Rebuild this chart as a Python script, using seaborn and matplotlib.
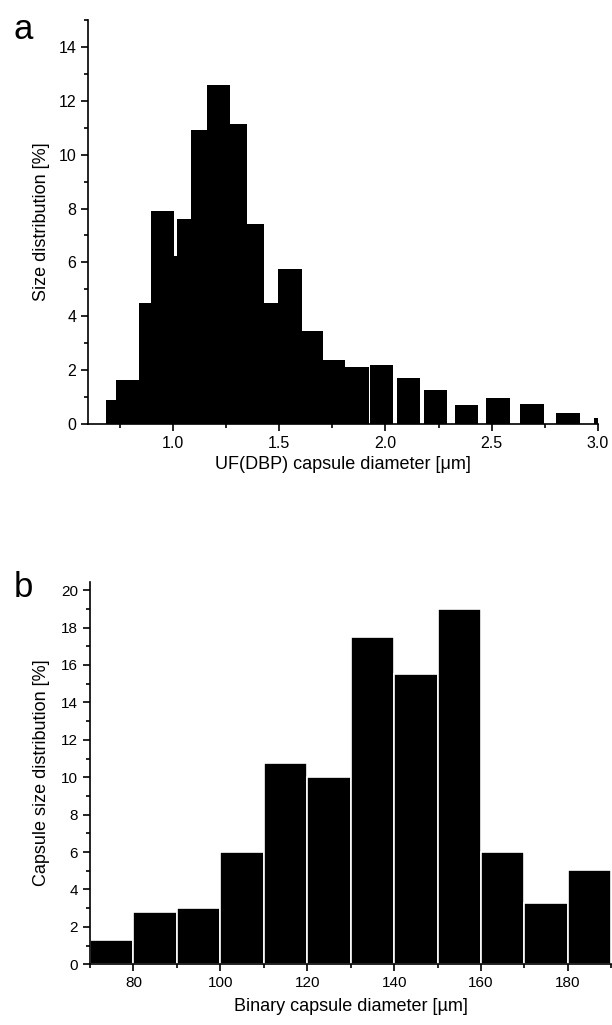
import numpy as np
import matplotlib
matplotlib.use("Agg")
import matplotlib.pyplot as plt
import seaborn as sns
from matplotlib.ticker import MultipleLocator

# panel a: UF(DBP) capsules, bin edges and heights (0 = white gap)
edges_a = [0.687, 0.734, 0.840, 0.895, 1.005, 1.017, 1.085, 1.159, 1.269, 1.347,
           1.426, 1.494, 1.607, 1.704, 1.808, 1.921, 1.928, 2.036, 2.052, 2.162,
           2.183, 2.292, 2.325, 2.436, 2.475, 2.587, 2.635, 2.745, 2.805, 2.916,
           2.983, 3.0]
heights_a = [0.91, 1.62, 4.51, 7.91, 6.25, 7.60, 10.92, 12.59, 11.15, 7.43,
             4.50, 5.74, 3.45, 2.38, 2.11, 0, 2.20, 0, 1.71, 0,
             1.28, 0, 0.70, 0, 0.96, 0, 0.74, 0, 0.42, 0,
             0.23]

# panel b: binary capsules, 10 um bins
edges_b = [70, 80, 90, 100, 110, 120, 130, 140, 150, 160, 170, 180, 190]
heights_b = [1.30, 2.79, 3.02, 6.02, 10.77, 10.0, 17.5, 15.5, 19.0, 6.02, 3.27, 5.02]

sns.set_theme(style="ticks")
plt.rcParams['font.family'] = ['Liberation Sans', 'DejaVu Sans']
plt.rcParams.update({
    'axes.linewidth': 1.2,
    'axes.edgecolor': 'black',
    'axes.labelcolor': 'black',
    'text.color': 'black',
    'xtick.color': 'black',
    'ytick.color': 'black',
})

fig = plt.figure(figsize=(6.12, 10.25), dpi=100)
ax_a = fig.add_axes([0.1438, 0.5863, 0.977 - 0.1438, 0.3942])
ax_b = fig.add_axes([0.147, 0.0592, 0.999 - 0.147, 0.3733])

centers_a = [(lo + hi) / 2 for lo, hi in zip(edges_a[:-1], edges_a[1:])]
sns.histplot(x=centers_a, weights=heights_a, bins=edges_a, stat="count",
             color="black", alpha=1, linewidth=0, ax=ax_a)

centers_b = [(lo + hi) / 2 for lo, hi in zip(edges_b[:-1], edges_b[1:])]
sns.histplot(x=centers_b, weights=heights_b, bins=edges_b, stat="count",
             color="black", alpha=1, edgecolor="white", linewidth=1.2, ax=ax_b)

# axes a
ax_a.set_xlim(0.6, 3.0)
ax_a.set_ylim(0, 15)
ax_a.xaxis.set_major_locator(MultipleLocator(0.5))
ax_a.xaxis.set_minor_locator(MultipleLocator(0.25))
ax_a.yaxis.set_major_locator(MultipleLocator(2))
ax_a.yaxis.set_minor_locator(MultipleLocator(1))
ax_a.set_xticks([1.0, 1.5, 2.0, 2.5, 3.0])
ax_a.set_xlabel("UF(DBP) capsule diameter [μm]", fontsize=13, labelpad=4)
ax_a.set_ylabel("Size distribution [%]", fontsize=13, labelpad=6)

# axes b
ax_b.set_xlim(70, 190)
ax_b.set_ylim(0, 20.45)
ax_b.xaxis.set_major_locator(MultipleLocator(20))
ax_b.xaxis.set_minor_locator(MultipleLocator(10))
ax_b.yaxis.set_major_locator(MultipleLocator(2))
ax_b.yaxis.set_minor_locator(MultipleLocator(1))
ax_b.set_xticks([80, 100, 120, 140, 160, 180])
ax_b.set_xlabel("Binary capsule diameter [µm]", fontsize=13, labelpad=6)
ax_b.set_ylabel("Capsule size distribution [%]", fontsize=13, labelpad=8)

for ax, fs in [(ax_a, 11.5), (ax_b, 11)]:
    sns.despine(ax=ax)
    ax.tick_params(which="major", direction="out", length=5, width=1.2,
                   labelsize=fs, colors="black")
    ax.tick_params(which="minor", direction="out", length=3, width=1.2)
    ax.grid(False)

fig.text(0.022, 0.962, "a", fontsize=25, ha="left", va="baseline")
fig.text(0.022, 0.418, "b", fontsize=25, ha="left", va="baseline")

fig.savefig("out.png", dpi=100)
